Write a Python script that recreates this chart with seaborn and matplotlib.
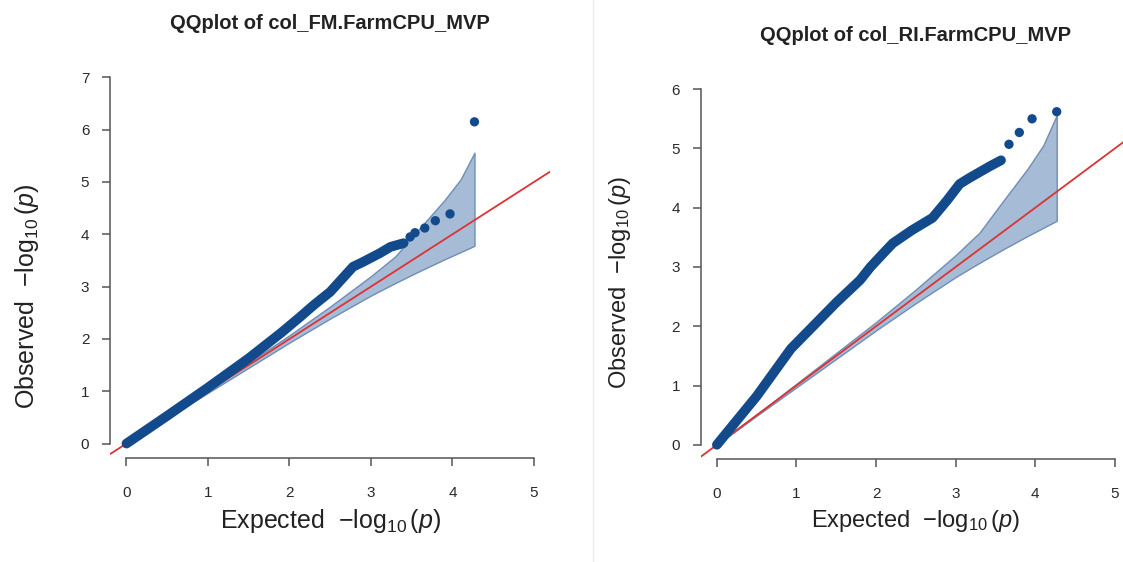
import matplotlib
matplotlib.use("Agg")
import matplotlib.pyplot as plt
from matplotlib.lines import Line2D
import seaborn as sns
import pandas as pd

# expected vs observed -log10(p)
fm_exp = [0, 0.5, 1.0, 1.5, 1.9, 2.13, 2.3, 2.5, 2.71, 2.78, 2.9, 3.11, 3.24, 3.4]
fm_obs = [0, 0.53, 1.07, 1.63, 2.12, 2.42, 2.65, 2.9, 3.26, 3.38, 3.47, 3.64, 3.76, 3.83]
fm_top_exp = [3.48, 3.54, 3.66, 3.79, 3.97, 4.27]
fm_top_obs = [3.95, 4.03, 4.12, 4.26, 4.39, 6.15]

ri_exp = [0, 0.5, 0.93, 1.5, 1.8, 1.93, 2.09, 2.21, 2.45, 2.71, 2.89, 3.05, 3.17, 3.43, 3.57]
ri_obs = [0, 0.82, 1.62, 2.4, 2.78, 3.0, 3.23, 3.4, 3.62, 3.83, 4.12, 4.4, 4.5, 4.7, 4.8]
ri_top_exp = [3.67, 3.8, 3.96, 4.27]
ri_top_obs = [5.07, 5.27, 5.5, 5.62]

# 95% confidence band
ci_exp = [0, 0.5, 1.0, 1.5, 2.0, 2.5, 3.0, 3.3, 3.6, 3.9, 4.1, 4.27]
ci_lo = [0, 0.49, 0.97, 1.45, 1.93, 2.39, 2.83, 3.07, 3.3, 3.52, 3.66, 3.78]
ci_hi = [0, 0.51, 1.03, 1.55, 2.07, 2.62, 3.2, 3.58, 4.12, 4.65, 5.05, 5.56]

titles = ["QQplot of col_FM.FarmCPU_MVP", "QQplot of col_RI.FarmCPU_MVP"]

sns.set_style("white")
plt.rcParams["font.family"] = ["Liberation Sans", "DejaVu Sans"]
plt.rcParams["mathtext.fontset"] = "custom"
plt.rcParams["mathtext.rm"] = "Liberation Sans"
plt.rcParams["mathtext.it"] = "Liberation Sans:italic"

blue = "#124a8c"
red = "#dd3333"

fig = plt.figure(figsize=(11.23, 5.62), dpi=100)
ax1 = fig.add_axes([0.0981, 0.1847, 0.3919, 0.7037])
ax2 = fig.add_axes([0.6242, 0.1833, 0.3827, 0.6833])

panels = [
    (ax1, fm_exp, fm_obs, fm_top_exp, fm_top_obs, 7, 18, (-0.158, 0.41)),
    (ax2, ri_exp, ri_obs, ri_top_exp, ri_top_obs, 6, 17, (-0.158, 0.46)),
]

for i, (ax, ex, ob, tex, tob, ymax, lab_fs, ylab_pos) in enumerate(panels):
    ax.fill_between(ci_exp, ci_lo, ci_hi, facecolor="#a6bbd6",
                    edgecolor="#6f8db5", linewidth=1.0, zorder=1)
    ax.axline((0, 0), slope=1, color=red, linewidth=1.3, zorder=2)
    line_df = pd.DataFrame({"exp": ex, "obs": ob})
    sns.lineplot(data=line_df, x="exp", y="obs", ax=ax, sort=False,
                 color=blue, linewidth=7, solid_capstyle="round", zorder=3)
    dot_df = pd.DataFrame({"exp": tex, "obs": tob})
    sns.scatterplot(data=dot_df, x="exp", y="obs", ax=ax, color=blue,
                    s=45, edgecolor="none", zorder=4)

    ax.set_xlim(-0.2, 5.2)
    ax.set_ylim(-0.04 * ymax, ymax * 1.04)
    ax.set_xticks(range(0, 6))
    ax.set_yticks(range(0, ymax + 1))
    for side in ["top", "right"]:
        ax.spines[side].set_visible(False)
    ax.spines["left"].set_bounds(0, ymax)
    ax.spines["bottom"].set_bounds(0, 5)
    for side in ["left", "bottom"]:
        ax.spines[side].set_color("#555555")
        ax.spines[side].set_linewidth(1.1)
    ax.tick_params(axis="both", which="major", direction="out", length=6,
                   width=1.1, color="#555555", labelsize=11,
                   labelcolor="#2a2a2a", left=True, bottom=True)
    ax.tick_params(axis="y", pad=9)
    ax.tick_params(axis="x", pad=14)
    ax.set_xlabel(r"Expected  $-\log_{10}(\mathit{p})$", fontsize=lab_fs,
                  color="#222222", labelpad=5)
    ax.set_ylabel(r"Observed  $-\log_{10}(\mathit{p})$", fontsize=lab_fs,
                  color="#222222")
    ax.yaxis.set_label_coords(*ylab_pos)
    ax.set_title(titles[i], fontsize=14.5, fontweight="bold",
                 color="#222222", pad=24.5)

fig.add_artist(Line2D([0.528, 0.528], [0, 1], transform=fig.transFigure,
                      color="#ececec", linewidth=1))

fig.savefig("out.png", dpi=100)
